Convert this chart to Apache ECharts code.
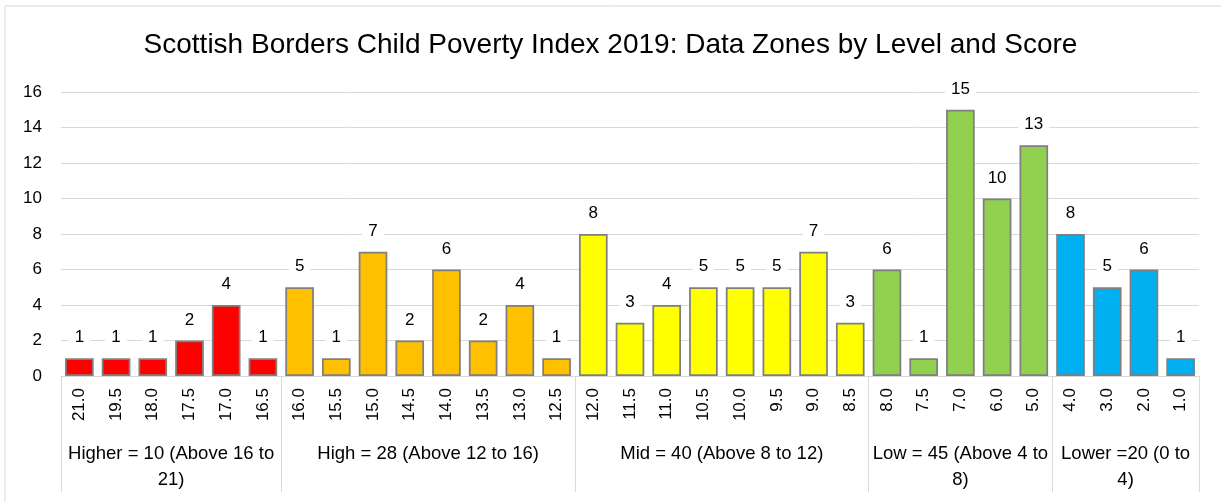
<!DOCTYPE html>
<html lang="en">
<head>
<meta charset="UTF-8" />
<title>Scottish Borders Child Poverty Index 2019</title>
<script type="text/javascript" src="https://cdn.jsdelivr.net/npm/echarts@6/dist/echarts.min.js"></script>
<style>
    html, body { margin: 0; padding: 0; background: #fff; }
</style>
</head>
<body>
<div id="main" style="width: 1221px; height: 502px;"></div>
<script type="text/javascript">
    // scores (first level of the x axis)
    var scores = ['21.0', '19.5', '18.0', '17.5', '17.0', '16.5',
        '16.0', '15.5', '15.0', '14.5', '14.0', '13.5', '13.0', '12.5',
        '12.0', '11.5', '11.0', '10.5', '10.0', '9.5', '9.0', '8.5',
        '8.0', '7.5', '7.0', '6.0', '5.0',
        '4.0', '3.0', '2.0', '1.0'];
    // number of data zones per score
    var zones = [1, 1, 1, 2, 4, 1,
        5, 1, 7, 2, 6, 2, 4, 1,
        8, 3, 4, 5, 5, 5, 7, 3,
        6, 1, 15, 10, 13,
        8, 5, 6, 1];
    // level groups (second level of the x axis)
    var levels = ['Higher = 10 (Above 16 to\n21)', 'High = 28 (Above 12 to 16)', 'Mid = 40 (Above 8 to 12)',
        'Low = 45 (Above 4 to\n8)', 'Lower =20 (0 to\n4)'];
    var levelSizes = [6, 8, 8, 5, 4];
    var levelColors = ['#FF0000', '#FFC000', '#FFFF00', '#92D050', '#00B0F0'];
    var yTicks = [0, 2, 4, 6, 8, 10, 12, 14, 16];

    var font = 'Liberation Sans, Noto Sans, sans-serif';

    // colour of each bar from its level
    var barData = [];
    var k = 0;
    levelSizes.forEach(function (n, g) {
        for (var i = 0; i < n; i++) {
            barData.push({ value: zones[k], itemStyle: { color: levelColors[g] } });
            k++;
        }
    });

    // second axis uses half-category slots so that group edges and centres land on slots
    var halfSlots = [];
    for (var s = 0; s <= scores.length * 2; s++) halfSlots.push('');
    var edges = [0], centres = {};
    var pos = 0;
    levelSizes.forEach(function (n, g) {
        centres[pos + n] = levels[g];
        pos += n * 2;
        edges.push(pos);
    });

    var myChart = echarts.init(document.getElementById('main'));
    var options = {
        backgroundColor: '#fff',
        animation: false,
        title: {
            text: 'Scottish Borders Child Poverty Index 2019: Data Zones by Level and Score',
            left: 'center',
            top: 26,
            textStyle: { fontFamily: font, fontSize: 28, fontWeight: 'normal', color: '#000' }
        },
        graphic: [{
            type: 'rect',
            shape: { x: 5, y: 6, width: 1240, height: 520 },
            style: { fill: 'none', stroke: '#d9d9d9', lineWidth: 1 },
            silent: true
        }],
        grid: { left: 61, right: 22, top: 92, bottom: 126 },
        xAxis: [{
            type: 'category',
            data: scores,
            axisLine: { lineStyle: { color: '#d9d9d9' } },
            axisTick: { show: false },
            axisLabel: {
                rotate: 90, margin: 12, interval: 0,
                fontFamily: font, fontSize: 17, color: '#000'
            }
        }, {
            type: 'category',
            position: 'bottom',
            data: halfSlots,
            boundaryGap: false,
            axisLine: { show: false },
            axisTick: {
                show: true, length: 116,
                interval: function (i) { return edges.indexOf(i) >= 0; },
                lineStyle: { color: '#d9d9d9' }
            },
            axisLabel: {
                margin: 65,
                interval: function (i) { return centres[i] !== undefined; },
                formatter: function (v, i) { return centres[i] || ''; },
                fontFamily: font, fontSize: 18.5, color: '#000', lineHeight: 26, align: 'center'
            }
        }],
        yAxis: {
            type: 'value',
            min: yTicks[0],
            max: yTicks[yTicks.length - 1],
            interval: 2,
            axisLine: { show: false },
            axisTick: { show: false },
            splitLine: { lineStyle: { color: '#d9d9d9' } },
            axisLabel: { margin: 19, fontFamily: font, fontSize: 17, color: '#000' }
        },
        series: [{
            type: 'bar',
            xAxisIndex: 0,
            data: barData,
            barCategoryGap: '22%',
            itemStyle: { borderColor: '#7f7f7f', borderWidth: 1.75 },
            label: {
                show: true, position: 'top', distance: 11,
                fontFamily: font, fontSize: 17, color: '#000',
                backgroundColor: '#fff', padding: [1, 6]
            }
        }]
    };
    myChart.setOption(options);
</script>
</body>
</html>
